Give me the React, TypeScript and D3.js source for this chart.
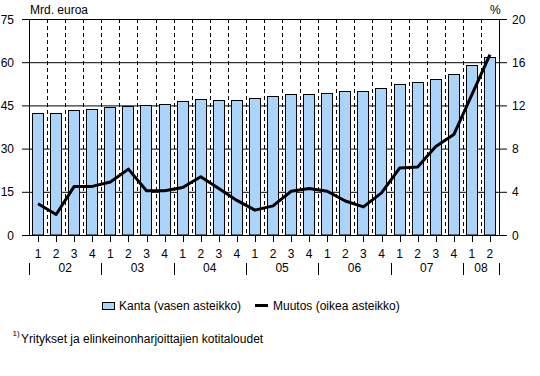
import React from "react";
import * as d3 from "d3";

const quarters = ["1","2","3","4","1","2","3","4","1","2","3","4","1","2","3","4","1","2","3","4","1","2","3","4","1","2"];
const years = ["02","03","04","05","06","07","08"];
const yearStarts = [0, 4, 8, 12, 16, 20, 24, 26];
const kanta = [42.3,42.2,43.3,43.8,44.3,44.7,45.0,45.4,46.4,47.1,46.8,46.8,47.5,48.4,48.9,48.9,49.2,49.9,49.9,50.9,52.3,53.0,54.1,55.8,58.9,61.7];
const muutos = [2.9,1.9,4.5,4.5,4.9,6.1,4.1,4.1,4.4,5.4,4.3,3.2,2.3,2.7,4.05,4.3,4.05,3.15,2.6,3.9,6.2,6.3,8.2,9.3,13.0,16.7];
const leftTicks = [0, 15, 30, 45, 60, 75];
const rightTicks = [0, 4, 8, 12, 16, 20];

const W = 540, H = 376;
const L = 29, R = 499, T = 19, B = 235;
const FONT = "'Liberation Sans', Arial, sans-serif";

export default function App() {
  const idx = quarters.map((_, i) => i);
  const x = d3.scaleBand<number>().domain(idx).range([L, R]).paddingInner(0.33).paddingOuter(0.165);
  const step = x.step();
  const boundary = (k: number) => L + step * k;
  const yL = d3.scaleLinear().domain([0, 75]).range([B, T]);
  const yR = d3.scaleLinear().domain([0, 20]).range([B, T]);
  const cx = (i: number) => (x(i) as number) + x.bandwidth() / 2;
  const line = d3.line<number>().x((_, i) => cx(i)).y((d) => yR(d));

  return (
    <svg width={W} height={H} style={{ position: "absolute", left: 0, top: 0, background: "#fff" }} fontFamily={FONT}>
      {leftTicks.map((t) => (
        <line key={"g" + t} x1={L} x2={R} y1={yL(t) + 0.5} y2={yL(t) + 0.5} stroke="#000" strokeWidth={1} />
      ))}
      {d3.range(1, quarters.length).map((k) => (
        <line key={"v" + k} x1={Math.round(boundary(k)) + 0.5} x2={Math.round(boundary(k)) + 0.5} y1={T} y2={B} stroke="#000" strokeWidth={1} strokeDasharray="4,3" />
      ))}
      {kanta.map((v, i) => (
        <rect key={"b" + i} x={Math.round(x(i) as number) + 0.5} y={Math.round(yL(v)) + 0.5} width={Math.round(x.bandwidth()) - 1} height={Math.round(B - yL(v)) - 0.5}
          fill="#aad4fa" stroke="#000" strokeWidth={1} />
      ))}
      <line x1={L + 0.5} x2={L + 0.5} y1={T} y2={B + 0.5} stroke="#000" />
      <line x1={R + 0.5} x2={R + 0.5} y1={T} y2={B + 0.5} stroke="#000" />
      <line x1={L} x2={R + 1} y1={B + 0.5} y2={B + 0.5} stroke="#000" />
      {leftTicks.map((t) => (
        <g key={"lt" + t}>
          <line x1={22} x2={L} y1={yL(t) + 0.5} y2={yL(t) + 0.5} stroke="#000" />
          <text x={14} y={yL(t) + 4.5} textAnchor="end" fontSize={12}>{t}</text>
        </g>
      ))}
      {rightTicks.map((t) => (
        <g key={"rt" + t}>
          <line x1={R} x2={507} y1={yR(t) + 0.5} y2={yR(t) + 0.5} stroke="#000" />
          <text x={512} y={yR(t) + 4.5} fontSize={12}>{t}</text>
        </g>
      ))}
      <text x={30} y={14} fontSize={12}>Mrd. euroa</text>
      <text x={490} y={14} fontSize={12}>%</text>
      {quarters.map((q, i) => (
        <g key={"q" + i}>
          <line x1={Math.round(cx(i)) + 0.5} x2={Math.round(cx(i)) + 0.5} y1={B} y2={242} stroke="#000" />
          <text x={cx(i)} y={258} textAnchor="middle" fontSize={12}>{q}</text>
        </g>
      ))}
      {yearStarts.map((s, k) => (
        <line key={"ys" + k} x1={Math.round(boundary(s)) + 0.5} x2={Math.round(boundary(s)) + 0.5} y1={263} y2={275} stroke="#000" />
      ))}
      {years.map((yv, k) => (
        <text key={"y" + k} x={(boundary(yearStarts[k]) + boundary(yearStarts[k + 1])) / 2} y={272} textAnchor="middle" fontSize={12}>{yv}</text>
      ))}
      <path d={line(muutos) || ""} fill="none" stroke="#000" strokeWidth={3} strokeLinejoin="round" />
      <rect x={102.5} y={302.5} width={12} height={7} fill="#aad4fa" stroke="#000" />
      <text x={119} y={310} fontSize={12}>Kanta (vasen asteikko)</text>
      <line x1={255} x2={268} y1={305.5} y2={305.5} stroke="#000" strokeWidth={3} />
      <text x={273} y={310} fontSize={12}>Muutos (oikea asteikko)</text>
      <text x={12.5} y={336} fontSize={8}>1)</text>
      <text x={21} y={343} fontSize={12}>Yritykset ja elinkeinonharjoittajien kotitaloudet</text>
    </svg>
  );
}
